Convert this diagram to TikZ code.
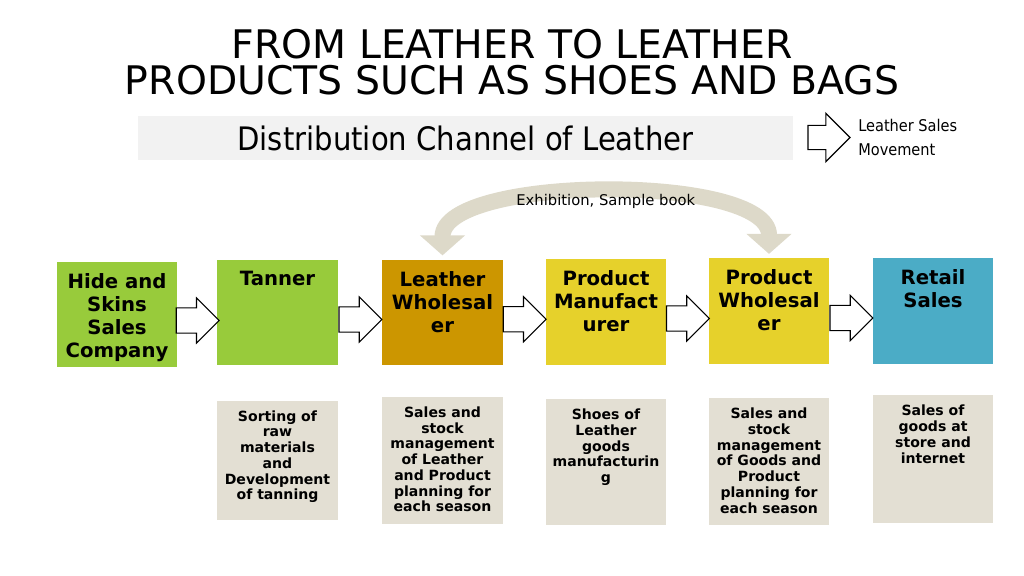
\documentclass[tikz,border=0pt]{standalone}
\usepackage{fontspec}
\setmainfont{DejaVu Sans}
\newfontfamily\condfont{DejaVu Sans Condensed}
\usetikzlibrary{positioning,shapes.arrows,arrows.meta,calc}

\definecolor{hidegreen}{HTML}{98CB3B}
\definecolor{leathergold}{HTML}{CC9600}
\definecolor{prodyellow}{HTML}{E6D12B}
\definecolor{retailblue}{HTML}{4BACC6}
\definecolor{descbeige}{HTML}{E3DFD3}
\definecolor{bandbeige}{HTML}{DDD9C9}
\definecolor{bannergray}{HTML}{F2F2F2}

\tikzset{
  stage/.style={rectangle,fill=#1,minimum width=3cm,minimum height=2.63cm,inner sep=0pt},
  stagetext/.style={align=center,inner sep=0pt,font=\bfseries\fontsize{14}{16.4}\selectfont},
  desc/.style={rectangle,fill=descbeige,minimum width=3cm,minimum height=#1,inner sep=0pt},
  desctext/.style={align=center,inner sep=0pt,font=\bfseries\fontsize{10}{11.2}\selectfont},
  movearrow/.style={single arrow,draw=black,fill=white,line width=0.8pt,minimum height=1.07cm,
    inner xsep=0pt,inner ysep=0.3cm,single arrow head extend=0.25cm,anchor=tail,outer sep=0pt},
  band/.style={draw=bandbeige,line width=0.4cm,shorten <=3pt,shorten >=3pt,
    {Triangle[width=1.1cm,length=0.5cm]}-{Triangle[width=1.1cm,length=0.5cm]}}
}

\begin{document}
\begin{tikzpicture}[x=0.025cm,y=-0.025cm]
  \useasboundingbox (0,0) rectangle (1024,576);

  % title and banner
  \node[align=center,inner sep=0pt,font=\fontsize{28}{26}\selectfont] (title) at (512,62)
    {FROM LEATHER TO LEATHER\\PRODUCTS SUCH AS SHOES AND BAGS};
  \node[fill=bannergray,minimum width=16.375cm,minimum height=1.1cm,inner sep=0pt,
    font=\condfont\fontsize{23}{26}\selectfont] (banner) at (465.5,138) {Distribution Channel of Leather};
  \node[movearrow,minimum height=1.05cm,inner ysep=0.29cm,single arrow head extend=0.3cm] (legend) at (808,137.5) {};
  \node[right=0.2cm of legend.tip,align=left,inner sep=0pt,font=\condfont\fontsize{11.5}{17}\selectfont]
    (legendtext) {Leather Sales\\Movement};

  % stages
  \node[stage=hidegreen] (hide) at (117,314.5) {};
  \node[stage=hidegreen] (tanner) at (277.5,312.5) {};
  \node[stage=leathergold] (lw) at (442.5,312.5) {};
  \node[stage=prodyellow] (pm) at (606,312) {};
  \node[stage=prodyellow] (pw) at (769,311) {};
  \node[stage=retailblue] (retail) at (933,311) {};

  \node[stagetext,below=8pt of hide.north] {Hide and\\Skins\\Sales\\Company};
  \node[stagetext,below=8pt of tanner.north] {Tanner};
  \node[stagetext,below=8pt of lw.north] {Leather\\Wholesal\\er};
  \node[stagetext,below=8pt of pm.north] {Product\\Manufact\\urer};
  \node[stagetext,below=8pt of pw.north] {Product\\Wholesal\\er};
  \node[stagetext,below=8pt of retail.north] {Retail\\Sales};

  \foreach \a/\b in {hide/tanner,tanner/lw,lw/pm,pm/pw,pw/retail}
    \node[movearrow] at ($(\a.east)!0.5!(\b.west)+(-21,7)$) {};

  % sample book route
  \draw[band] (lw.north) .. controls +(0,-85) and +(0,-85) ..
    node[pos=0.5,yshift=-4.5pt,font=\fontsize{10.5}{12}\selectfont] (exh) {Exhibition, Sample book} (pw.north);

  % descriptions
  \node[desc=2.98cm,below=0.875cm of tanner] (tannerdesc) {};
  \node[desc=3.18cm,below=0.78cm of lw] (lwdesc) {};
  \node[desc=3.15cm,below=0.85cm of pm] (pmdesc) {};
  \node[desc=3.18cm,below=0.85cm of pw] (pwdesc) {};
  \node[desc=3.2cm,below=0.78cm of retail] (retaildesc) {};

  \node[desctext,below=7pt of tannerdesc.north] {Sorting of\\raw\\materials\\and\\Development\\of tanning};
  \node[desctext,below=7pt of lwdesc.north] {Sales and\\stock\\management\\of Leather\\and Product\\planning for\\each season};
  \node[desctext,below=7pt of pmdesc.north] {Shoes of\\Leather\\goods\\manufacturin\\g};
  \node[desctext,below=7pt of pwdesc.north] {Sales and\\stock\\management\\of Goods and\\Product\\planning for\\each season};
  \node[desctext,below=7pt of retaildesc.north] {Sales of\\goods at\\store and\\internet};
\end{tikzpicture}
\end{document}
